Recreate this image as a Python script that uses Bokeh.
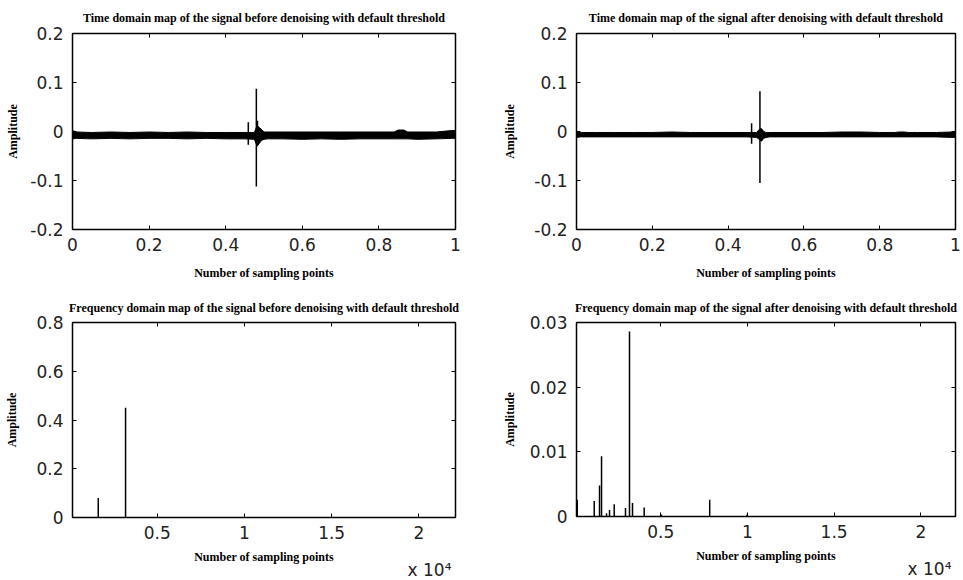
from bokeh.plotting import figure
from bokeh.models import (LinearAxis, FixedTicker, NumeralTickFormatter,
                          CustomJSTickFormatter, Range1d, Title)
from bokeh.layouts import gridplot
from bokeh.embed import file_html
from bokeh.resources import INLINE

# ---------------- data ----------------
# time-domain signal envelope (normalised sample index 0..1)
t_env = [0.0, 0.01, 0.05, 0.1, 0.15, 0.2, 0.25, 0.3, 0.35, 0.4, 0.45, 0.475,
         0.482, 0.488, 0.494, 0.5, 0.51, 0.55, 0.6, 0.65, 0.7, 0.75, 0.8,
         0.84, 0.85, 0.865, 0.875, 0.9, 0.95, 0.99, 1.0]
before_upper = [0.002, -0.001, -0.002, -0.001, -0.002, -0.001, -0.002, -0.001,
                -0.002, -0.002, -0.002, -0.002, 0.012, 0.008, 0.004, -0.001,
                -0.001, -0.001, -0.001, -0.001, -0.001, -0.001, -0.001, -0.001,
                0.003, 0.003, -0.001, -0.001, -0.001, 0.002, 0.002]
before_lower = [-0.015, -0.014, -0.015, -0.014, -0.015, -0.014, -0.014, -0.015,
                -0.014, -0.015, -0.015, -0.016, -0.030, -0.024, -0.018, -0.016,
                -0.015, -0.015, -0.016, -0.015, -0.016, -0.015, -0.015, -0.015,
                -0.015, -0.015, -0.015, -0.016, -0.015, -0.014, -0.014]
after_upper = [-0.001, -0.002, -0.002, -0.002, -0.002, -0.002, -0.001, -0.002,
               -0.002, -0.002, -0.002, -0.002, 0.004, 0.006, 0.000, -0.002,
               -0.002, -0.002, -0.002, -0.002, -0.001, -0.001, -0.002, -0.002,
               -0.001, -0.001, -0.002, -0.002, -0.002, -0.001, 0.000]
after_lower = [-0.012, -0.011, -0.011, -0.011, -0.011, -0.011, -0.011, -0.011,
               -0.011, -0.011, -0.011, -0.012, -0.016, -0.020, -0.014, -0.012,
               -0.011, -0.011, -0.011, -0.011, -0.011, -0.011, -0.011, -0.011,
               -0.011, -0.011, -0.011, -0.011, -0.011, -0.012, -0.012]

# impulsive spikes in the time domain
before_spike_t = [0.459, 0.480, 0.483]
before_spike_hi = [0.019, 0.087, 0.022]
before_spike_lo = [-0.027, -0.112, -0.020]
after_spike_t = [0.462, 0.484]
after_spike_hi = [0.017, 0.082]
after_spike_lo = [-0.025, -0.105]

# frequency-domain spectral lines (sampling point index, amplitude)
before_freq = [1617, 3182]
before_amp = [0.080, 0.450]
after_freq = [184, 1163, 1469, 1584, 1872, 2045, 2315, 2966, 3197, 3370,
              4044, 5040, 7823, 9977]
after_amp = [0.0026, 0.0024, 0.0048, 0.0093, 0.0005, 0.0010, 0.0019, 0.0013,
             0.0286, 0.0021, 0.0014, 0.0003, 0.0026, 0.0003]

time_xticks = [0, 0.2, 0.4, 0.6, 0.8, 1.0]
time_yticks = [-0.2, -0.1, 0, 0.1, 0.2]
freq_xticks = [5000, 10000, 15000, 20000]
before_freq_yticks = [0, 0.2, 0.4, 0.6, 0.8]
after_freq_yticks = [0, 0.01, 0.02, 0.03]

titles = [
    "Time domain map of the signal before denoising with default threshold",
    "Time domain map of the signal after denoising with default threshold",
    "Frequency domain map of the signal before denoising with default threshold",
    "Frequency domain map of the signal after denoising with default threshold",
]
xlabel = "Number of sampling points"
ylabel = "Amplitude"
exponent_text = "x 10\u2074"

TICK_FONT = "DejaVu Sans"
SERIF = "Liberation Serif"
TICK_COLOR = "#222222"


def make_fig(title, fw, fh, bl, br, bt, bb, xr, yr, xticks, yticks,
             xfmt, ylab_standoff, xlab_standoff, title_standoff):
    p = figure(frame_width=fw, frame_height=fh,
               min_border_left=bl, min_border_right=br,
               min_border_top=bt, min_border_bottom=bb,
               x_range=Range1d(*xr), y_range=Range1d(*yr),
               output_backend="svg", toolbar_location=None, tools="")
    p.background_fill_color = "white"
    p.border_fill_color = "white"
    p.outline_line_color = "black"
    p.outline_line_width = 1.5
    p.outline_line_alpha = 1.0
    p.xgrid.visible = False
    p.ygrid.visible = False

    p.title.text = title
    p.title.text_font = SERIF
    p.title.text_font_style = "bold"
    p.title.text_font_size = "12px"
    p.title.align = "center"
    p.title.text_color = "black"
    p.title.standoff = title_standoff

    for ax, ticks in ((p.xaxis[0], xticks), (p.yaxis[0], yticks)):
        ax.ticker = FixedTicker(ticks=ticks)
        ax.axis_line_color = None
        ax.major_tick_in = 4
        ax.major_tick_out = 0
        ax.major_tick_line_width = 1
        ax.major_tick_line_color = "black"
        ax.minor_tick_line_color = None
        ax.major_label_text_font = TICK_FONT
        ax.major_label_text_font_size = "17px"
        ax.major_label_text_color = TICK_COLOR
        ax.axis_label_text_font = SERIF
        ax.axis_label_text_font_style = "bold"
        ax.axis_label_text_font_size = "12px"
        ax.axis_label_text_color = "black"
    p.xaxis[0].formatter = xfmt
    p.yaxis[0].formatter = NumeralTickFormatter(format="0.[00]")
    p.xaxis[0].axis_label = xlabel
    p.yaxis[0].axis_label = ylabel
    p.xaxis[0].major_label_standoff = 8
    p.yaxis[0].major_label_standoff = 9
    p.xaxis[0].axis_label_standoff = xlab_standoff
    p.yaxis[0].axis_label_standoff = ylab_standoff

    # inward ticks on the top and right edges of the box
    for loc, ticks in (("above", xticks), ("right", yticks)):
        ax = LinearAxis(ticker=FixedTicker(ticks=ticks),
                        formatter=CustomJSTickFormatter(code="return '';"),
                        major_label_standoff=0,
                        axis_line_color=None, major_tick_in=4,
                        major_tick_out=0, minor_tick_line_color=None,
                        major_tick_line_color="black")
        p.add_layout(ax, loc)
    return p


def add_exponent(p):
    p.add_layout(Title(text=exponent_text, align="right", offset=4,
                       standoff=-18, text_font=TICK_FONT,
                       text_font_size="17px", text_font_style="normal",
                       text_color=TICK_COLOR), "below")


# top-left: time domain before
p1 = make_fig(titles[0], 383, 196, 72, 25, 33, 61, (0, 1), (-0.2, 0.2),
              time_xticks, time_yticks, NumeralTickFormatter(format="0.[00]"),
              7, 12, 17)
p1.varea(x=t_env, y1=before_lower, y2=before_upper, fill_color="black")
p1.line(x=t_env, y=before_upper, line_color="black", line_width=1)
p1.line(x=t_env, y=before_lower, line_color="black", line_width=1)
p1.segment(x0=before_spike_t, y0=before_spike_lo, x1=before_spike_t,
           y1=before_spike_hi, line_color="black", line_width=1.5)

# top-right: time domain after
p2 = make_fig(titles[1], 379, 196, 96, 6, 33, 61, (0, 1), (-0.2, 0.2),
              time_xticks, time_yticks, NumeralTickFormatter(format="0.[00]"),
              14, 12, 17)
p2.varea(x=t_env, y1=after_lower, y2=after_upper, fill_color="black")
p2.line(x=t_env, y=after_upper, line_color="black", line_width=1)
p2.line(x=t_env, y=after_lower, line_color="black", line_width=1)
p2.segment(x0=after_spike_t, y0=after_spike_lo, x1=after_spike_t,
           y1=after_spike_hi, line_color="black", line_width=1.5)

# bottom-left: frequency domain before
p3 = make_fig(titles[2], 383, 195, 72, 25, 32, 62, (140, 22100), (0, 0.8),
              freq_xticks, before_freq_yticks,
              CustomJSTickFormatter(code="return String(tick / 10000);"),
              14, 8, 16)
p3.segment(x0=before_freq, y0=[0] * len(before_freq), x1=before_freq,
           y1=before_amp, line_color="black", line_width=1.5)
add_exponent(p3)

# bottom-right: frequency domain after
p4 = make_fig(titles[3], 379, 194, 96, 6, 32, 63, (140, 22000), (0, 0.03),
              freq_xticks, after_freq_yticks,
              CustomJSTickFormatter(code="return String(tick / 10000);"),
              10, 8, 16)
p4.segment(x0=after_freq, y0=[0] * len(after_freq), x1=after_freq,
           y1=after_amp, line_color="black", line_width=1.5)
add_exponent(p4)

grid = gridplot([[p1, p2], [p3, p4]], toolbar_location=None)

open("out.html", "w").write(file_html(grid, INLINE))
